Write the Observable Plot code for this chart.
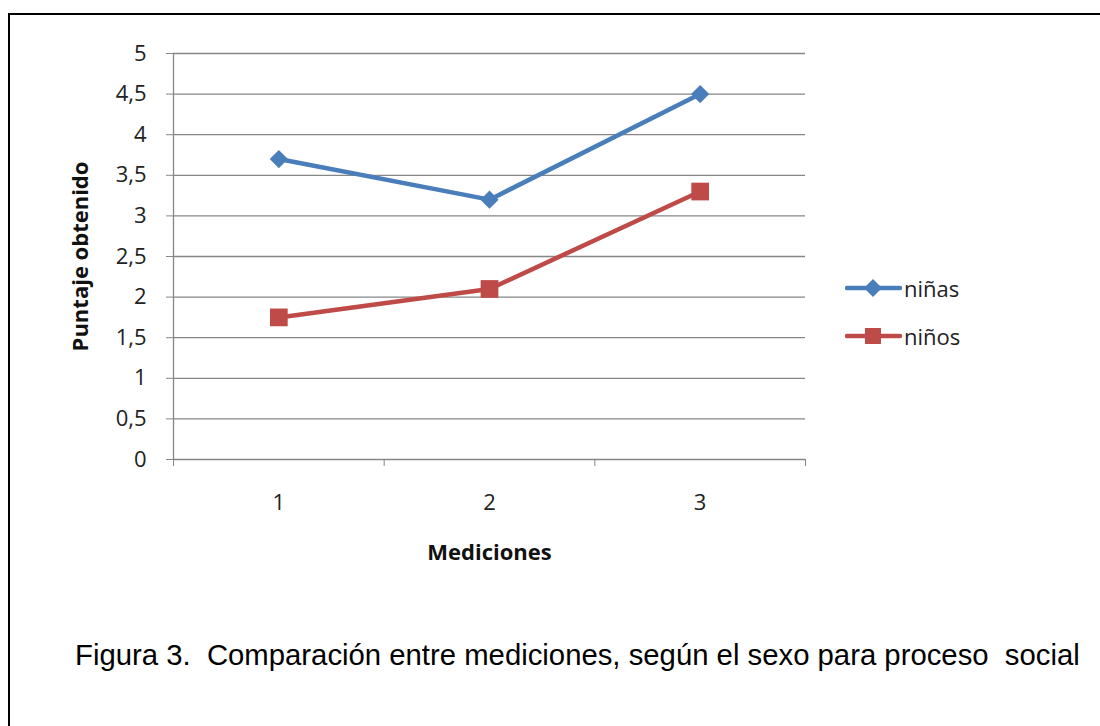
<!DOCTYPE html>
<html>
<head>
<meta charset="utf-8">
<script src="https://cdn.jsdelivr.net/npm/d3@7"></script>
<script src="https://cdn.jsdelivr.net/npm/@observablehq/plot@0.6"></script>
<style>
  html, body { margin: 0; padding: 0; background: #fff; }
  #wrap { position: relative; width: 1100px; height: 726px; overflow: hidden; background: #fff; }
  #frame { position: absolute; left: 8px; top: 13px; width: 1200px; height: 800px; border: 2px solid #000; box-sizing: border-box; }
  #chart { position: absolute; left: 0; top: 0; }
  #legend { position: absolute; left: 845px; top: 274px; font-family: "Open Sans", sans-serif; font-size: 22px; color: #222; }
  .item { display: flex; align-items: center; height: 28px; margin-bottom: 20px; }
  .item svg { margin-right: 1px; }
  #caption { position: absolute; left: 75px; top: 638px; font-family: "Liberation Sans", Arial, sans-serif; font-size: 29.3px; color: #000; white-space: pre; }
</style>
</head>
<body>
<div id="wrap">
  <div id="frame"></div>
  <div id="chart"></div>
  <div id="legend"></div>
  <div id="caption"></div>
</div>
<script>
// ---- data ----
const mediciones = [1, 2, 3];
const ninas = [3.7, 3.2, 4.5];
const ninos = [1.75, 2.1, 3.3];
const seriesNames = ["niñas", "niños"];
const seriesColors = ["#4A7EBB", "#BE4B48"];
const seriesSymbols = ["diamond2", "square"];
const yTicks = [0, 0.5, 1, 1.5, 2, 2.5, 3, 3.5, 4, 4.5, 5];
const xBounds = [0.5, 1.5, 2.5, 3.5];
const yLabel = "Puntaje obtenido";
const xLabel = "Mediciones";
const captionText = "Figura 3.  Comparación entre mediciones, según el sexo para proceso  social";

const rows = [];
[ninas, ninos].forEach((vals, s) => {
  mediciones.forEach((m, i) => rows.push({serie: seriesNames[s], medicion: m, valor: vals[i]}));
});

const grid = "#868686";
const fmt = d => String(d).replace(".", ",");

const chart = Plot.plot({
  width: 1100,
  height: 600,
  marginLeft: 173,
  marginRight: 295,
  marginTop: 53,
  marginBottom: 141,
  style: {fontFamily: "'Open Sans', sans-serif", color: "#222", background: "transparent"},
  x: {type: "linear", domain: [0.5, 3.5]},
  y: {domain: [0, 5]},
  color: {domain: seriesNames, range: seriesColors},
  symbol: {domain: seriesNames, range: seriesSymbols},
  marks: [
    Plot.gridY(yTicks, {stroke: grid, strokeOpacity: 1, strokeWidth: 1.3}),
    Plot.axisY(yTicks, {tickSize: 7, tickFormat: () => "", stroke: grid, label: null}),
    Plot.axisY(yTicks, {tickSize: 0, tickPadding: 27, tickFormat: fmt, fontSize: 22, fill: "#222", label: null}),
    Plot.ruleX([0.5], {stroke: grid, strokeWidth: 1.3}),
    Plot.axisX(xBounds, {tickSize: 7, tickFormat: () => "", stroke: grid, label: null}),
    Plot.axisX(mediciones, {tickSize: 0, tickPadding: 35, tickFormat: d => String(d), fontSize: 22, fill: "#222", label: null}),
    Plot.line(rows, {x: "medicion", y: "valor", z: "serie", stroke: "serie", strokeWidth: 4.5}),
    Plot.dot(rows.filter(d => d.serie === seriesNames[0]), {x: "medicion", y: "valor", fill: "serie", symbol: "serie", r: 8.2, stroke: "none"}),
    Plot.dot(rows.filter(d => d.serie === seriesNames[1]), {x: "medicion", y: "valor", fill: "serie", symbol: "serie", r: 10, stroke: "none"}),
    Plot.text([yLabel], {frameAnchor: "left", textAnchor: "middle", dx: -93, rotate: -90, fontSize: 22, fontWeight: "bold", fill: "#111"}),
    Plot.text([xLabel], {frameAnchor: "bottom", textAnchor: "middle", dy: 100, fontSize: 22, fontWeight: "bold", fill: "#111"})
  ]
});
document.getElementById("chart").appendChild(chart);

// legend
const legend = document.getElementById("legend");
seriesNames.forEach((name, i) => {
  const item = document.createElement("div");
  item.className = "item";
  const shape = seriesSymbols[i] === "square"
    ? `<rect x="20" y="5" width="16" height="16" fill="${seriesColors[i]}"/>`
    : `<path d="M28,4 L37,13 L28,22 L19,13 Z" fill="${seriesColors[i]}"/>`;
  item.innerHTML = `<svg width="58" height="26"><line x1="2" y1="13" x2="55" y2="13" stroke="${seriesColors[i]}" stroke-width="4.5" stroke-linecap="round"/>${shape}</svg><span>${name}</span>`;
  legend.appendChild(item);
});

document.getElementById("caption").textContent = captionText;
</script>
</body>
</html>
